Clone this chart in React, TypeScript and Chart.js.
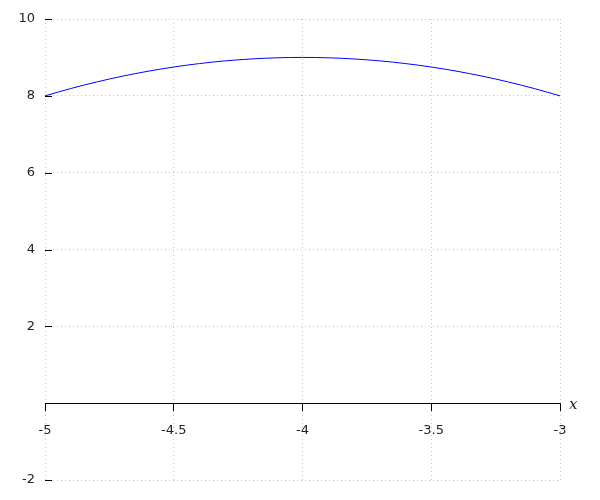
import React, { useEffect, useRef } from "react";
import { Chart, registerables } from "chart.js";

Chart.register(...registerables);

// x positions
const xValues = [-5, -4.9, -4.8, -4.7, -4.6, -4.5, -4.4, -4.3, -4.2, -4.1, -4, -3.9, -3.8, -3.7, -3.6, -3.5, -3.4, -3.3, -3.2, -3.1, -3];
// y values
const yValues = [8, 8.19, 8.36, 8.51, 8.64, 8.75, 8.84, 8.91, 8.96, 8.99, 9, 8.99, 8.96, 8.91, 8.84, 8.75, 8.64, 8.51, 8.36, 8.19, 8];

const xMin = -5;
const xMax = -3;
const xStep = 0.5;
const yMin = -2;
const yMax = 10;
const yStep = 2;
const xAxisTitle = "x";

export default function App() {
  const ref = useRef<HTMLCanvasElement | null>(null);

  useEffect(() => {
    if (!ref.current) return;
    const gridColor = "#c4c4c4";
    const innerTicks = {
      id: "innerTicks",
      afterDraw(chart: any) {
        const { ctx, chartArea, scales } = chart;
        const ys = scales.y;
        const xs = scales.x;
        ctx.save();
        ctx.strokeStyle = "#000";
        ctx.lineWidth = 1;
        ys.ticks.forEach((t: any) => {
          if (t.value === 0) return;
          const py = Math.round(ys.getPixelForValue(t.value)) + 0.5;
          ctx.beginPath();
          ctx.moveTo(chartArea.left, py);
          ctx.lineTo(chartArea.left + 7, py);
          ctx.stroke();
        });
        ctx.fillStyle = "#222";
        ctx.font = 'italic 15px "DejaVu Serif"';
        ctx.textBaseline = "middle";
        ctx.textAlign = "left";
        ctx.fillText(xAxisTitle, xs.right + 9, ys.getPixelForValue(0) + 2);
        ctx.restore();
      },
    };

    const chart = new Chart(ref.current, {
      type: "scatter",
      data: {
        datasets: [
          {
            data: xValues.map((x, i) => ({ x, y: yValues[i] })),
            showLine: true,
            borderColor: "#0000ff",
            borderWidth: 1,
            pointRadius: 0,
            cubicInterpolationMode: "monotone",
            fill: false,
          },
        ],
      },
      options: {
        animation: false,
        responsive: true,
        maintainAspectRatio: false,
        layout: { padding: { top: 19, bottom: 20, left: 0, right: 40 } },
        plugins: { legend: { display: false }, tooltip: { enabled: false } },
        scales: {
          x: {
            type: "linear",
            position: { y: 0 } as any,
            min: xMin,
            max: xMax,
            ticks: {
              stepSize: xStep,
              color: "#222",
              font: { family: "DejaVu Sans", size: 13 },
              padding: 13,
              maxRotation: 0,
              callback: (v: any) => String(v),
            },
            grid: {
              color: gridColor,
              lineWidth: 1,
              tickColor: "#000",
              tickLength: 7,
              tickBorderDash: [],
            },
            border: { display: true, color: "#000", width: 1, dash: [1, 3] },
          },
          y: {
            type: "linear",
            position: "left",
            min: yMin,
            max: yMax,
            afterFit: (s: any) => {
              s.width = 45;
            },
            ticks: {
              stepSize: yStep,
              color: "#222",
              font: { family: "DejaVu Sans", size: 13 },
              padding: 10,
              callback: (v: any) => (v === 0 ? "" : String(v)),
            },
            grid: {
              drawTicks: false,
              color: (c: any) => (c.tick && c.tick.value === 0 ? "rgba(0,0,0,0)" : gridColor),
              lineWidth: 1,
            },
            border: { display: false, dash: [1, 3] },
          },
        },
      },
      plugins: [innerTicks],
    });
    return () => chart.destroy();
  }, []);

  return (
    <div style={{ position: "fixed", left: 0, top: 0, width: 600, height: 500, background: "#fff" }}>
      <canvas ref={ref} />
    </div>
  );
}
